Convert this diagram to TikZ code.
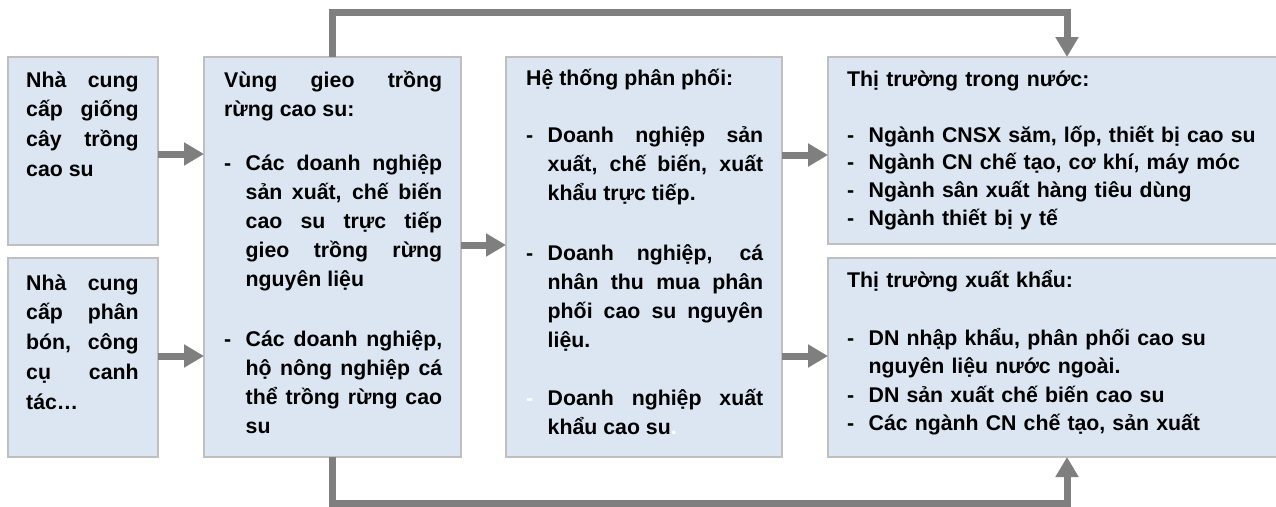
\documentclass[tikz,border=0pt]{standalone}
\usepackage{fontspec}
\setmainfont{Liberation Sans}
\usetikzlibrary{arrows.meta}
\definecolor{boxfill}{HTML}{DCE6F2}
\definecolor{boxline}{HTML}{BFBFBF}
\definecolor{arrowgray}{HTML}{7F7F7F}
\newcommand\mystrut{\rule{0pt}{22pt}}
\newcommand\itm{\hangindent=21.5pt\hangafter=1\noindent\makebox[21.5pt][l]{-}}
\newcommand\itmw{\hangindent=21.5pt\hangafter=1\noindent\makebox[21.5pt][l]{\color{white}-}}
\begin{document}
\begin{tikzpicture}[x=1pt,y=-1pt,
  box/.style={draw=boxline, fill=boxfill, line width=1.5pt, rectangle, inner sep=0pt, outer sep=0pt, anchor=north west},
  txt/.style={anchor=north west, inner sep=0pt, align=justify, font={\bfseries\fontsize{21.3}{29}\selectfont}},
  ltxt/.style={txt, font={\bfseries\fontsize{21.3}{29.7}\selectfont}},
  rtxt/.style={anchor=north west, inner sep=0pt, align=left, text width=420pt},
  arr/.style={draw=arrowgray, line width=7pt, -{Triangle[length=20pt,width=22pt]}, line join=miter}
]
\useasboundingbox (0,0) rectangle (1276,506);

% boxes
\node[box, minimum width=150pt, minimum height=188pt] (b1) at (8,57) {};
\node[box, minimum width=150pt, minimum height=199pt] (b2) at (8,258) {};
\node[box, minimum width=257pt, minimum height=400pt] (b3) at (204,57) {};
\node[box, minimum width=276pt, minimum height=400pt] (b4) at (506,57) {};
\node[box, minimum width=462pt, minimum height=187pt] (b5) at (828,57) {};
\node[box, minimum width=462pt, minimum height=199pt] (b6) at (828,258) {};

% texts
\node[ltxt, text width=112.5pt] (t1) at (26,65) {\mystrut Nhà cung\linebreak cấp giống\linebreak cây trồng\linebreak cao su\par};
\node[ltxt, text width=112.5pt] (t2) at (26,268) {\mystrut Nhà cung\linebreak cấp phân\linebreak bón, công\linebreak cụ canh\linebreak tác…\par};
\node[txt, text width=218pt] (t3) at (224,65) {\mystrut Vùng gieo trồng\linebreak rừng cao su:\par\vspace{25pt}
\itm Các doanh nghiệp\linebreak sản xuất, chế biến\linebreak cao su trực tiếp\linebreak gieo trồng rừng\linebreak nguyên liệu\par\vspace{31pt}
\itm Các doanh nghiệp,\linebreak hộ nông nghiệp cá\linebreak thể trồng rừng cao\linebreak su\par};
\node[txt, text width=237pt] (t4) at (526,63) {\mystrut Hệ thống phân phối:\par\vspace{28pt}
\itm Doanh nghiệp sản\linebreak xuất, chế biến, xuất\linebreak khẩu trực tiếp.\par\vspace{31pt}
\itm Doanh nghiệp, cá\linebreak nhân thu mua phân\linebreak phối cao su nguyên\linebreak liệu.\par\vspace{29pt}
\itmw Doanh nghiệp xuất\linebreak khẩu cao su{\color{white}.}\par};
\node[rtxt, font={\bfseries\fontsize{21.3}{27.8}\selectfont}] (t5) at (847,64) {\mystrut Thị trường trong nước:\par\vspace{28pt}
\itm Ngành CNSX săm, lốp, thiết bị cao su\par
\itm Ngành CN chế tạo, cơ khí, máy móc\par
\itm Ngành sân xuất hàng tiêu dùng\par
\itm Ngành thiết bị y tế\par};
\node[rtxt, font={\bfseries\fontsize{21.3}{28.3}\selectfont}] (t6) at (847,265) {\mystrut Thị trường xuất khẩu:\par\vspace{30pt}
\itm DN nhập khẩu, phân phối cao su\newline nguyên liệu nước ngoài.\par
\itm DN sản xuất chế biến cao su\par
\itm Các ngành CN chế tạo, sản xuất\par};

% helper coordinates
\coordinate (tl) at (332.5,12.5);
\coordinate (tr) at (1067,12.5);
\coordinate (bl) at (332.5,503);
\coordinate (br) at (1067,503);

% arrows
\draw[arr] (b1.east |- 0,154) -- (b3.west |- 0,154);
\draw[arr] (b2.east |- 0,356) -- (b3.west |- 0,356);
\draw[arr] (b3.east |- 0,245) -- (b4.west |- 0,245);
\draw[arr] (b4.east |- 0,155) -- (b5.west |- 0,155);
\draw[arr] (b4.east |- 0,356) -- (b6.west |- 0,356);
\draw[arr] (b3.north -| tl) -- (tl) -- (tr) -- (b5.north -| tr);
\draw[arr] (b3.south -| bl) -- (bl) -- (br) -- (b6.south -| br);
\end{tikzpicture}
\end{document}
